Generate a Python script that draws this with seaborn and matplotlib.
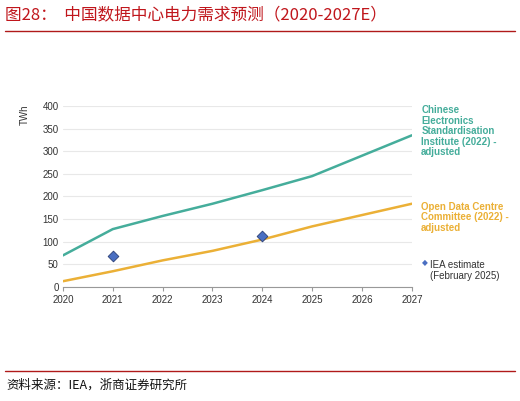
import matplotlib
matplotlib.use("Agg")
import matplotlib.pyplot as plt
import seaborn as sns
import pandas as pd

# data (TWh)
years = [2020, 2021, 2022, 2023, 2024, 2025, 2026, 2027]
cesi = [70, 128, 157, 184, 214, 245, 290, 335]
odcc = [13, 35, 59, 80, 105, 134, 159, 184]
iea_years = [2021, 2024]
iea_vals = [69, 112]

teal = "#45ad9b"
orange = "#ebb036"
blue = "#4a6fc2"

df = pd.DataFrame({"year": years, "cesi": cesi, "odcc": odcc})
iea = pd.DataFrame({"year": iea_years, "val": iea_vals})

sns.set_style("white")
plt.rcParams['font.family'] = ['Liberation Sans', 'DejaVu Sans']

fig = plt.figure(figsize=(5.2, 4.01), dpi=100)
ax = fig.add_axes([0.121, 0.284, 0.671, 0.452])

sns.lineplot(data=df, x="year", y="cesi", color=teal, linewidth=1.8, ax=ax)
sns.lineplot(data=df, x="year", y="odcc", color=orange, linewidth=1.8, ax=ax)
sns.scatterplot(data=iea, x="year", y="val", marker="D", s=30, color=blue,
                edgecolor="#2a3f75", linewidth=0.6, zorder=5, ax=ax)

ax.set_xlim(2020, 2027)
ax.set_ylim(0, 400)
ax.set_yticks(range(0, 401, 50))
ax.set_xticks(years)
ax.grid(axis="y", color="#e8e8e8", linewidth=0.8)
ax.set_axisbelow(True)
for s in ["top", "right", "left"]:
    ax.spines[s].set_visible(False)
ax.spines["bottom"].set_color("#999999")
ax.tick_params(axis="both", labelsize=7, colors="#333333", length=0, pad=3)
ax.tick_params(axis="x", length=3, color="#999999", direction="out", bottom=True)
ax.set_xlabel("")
ax.set_ylabel("TWh", fontsize=7, color="#333333")
ax.yaxis.set_label_coords(-0.095, 0.95)

# right-hand series labels
fig.text(0.81, 0.737, "Chinese\nElectronics\nStandardisation\nInstitute (2022) -\nadjusted",
         color=teal, fontsize=7, fontweight="bold", va="top", linespacing=1.05)
fig.text(0.81, 0.497, "Open Data Centre\nCommittee (2022) -\nadjusted",
         color=orange, fontsize=7, fontweight="bold", va="top", linespacing=1.05)
fig.text(0.812, 0.343, "\u25c6", color=blue, fontsize=5.5, va="center")
fig.text(0.827, 0.352, "IEA estimate\n(February 2025)", color="#333333",
         fontsize=7, va="top", linespacing=1.1)

# title, source and rules
fig.text(0.01, 0.962, "图28：  中国数据中心电力需求预测（2020-2027E）", color="#c0161c",
         fontsize=12, va="center", family=['Noto Sans CJK SC', 'DejaVu Sans'])
fig.add_artist(plt.Line2D([0.01, 0.99], [0.922, 0.922], color="#b01a1a", linewidth=1.0))
fig.add_artist(plt.Line2D([0.01, 0.99], [0.075, 0.075], color="#b01a1a", linewidth=1.0))
fig.text(0.012, 0.04, "资料来源：IEA，浙商证券研究所", color="#111111",
         fontsize=9, va="center", family=['Noto Sans CJK SC', 'DejaVu Sans'])

fig.savefig("out.png", dpi=100)
